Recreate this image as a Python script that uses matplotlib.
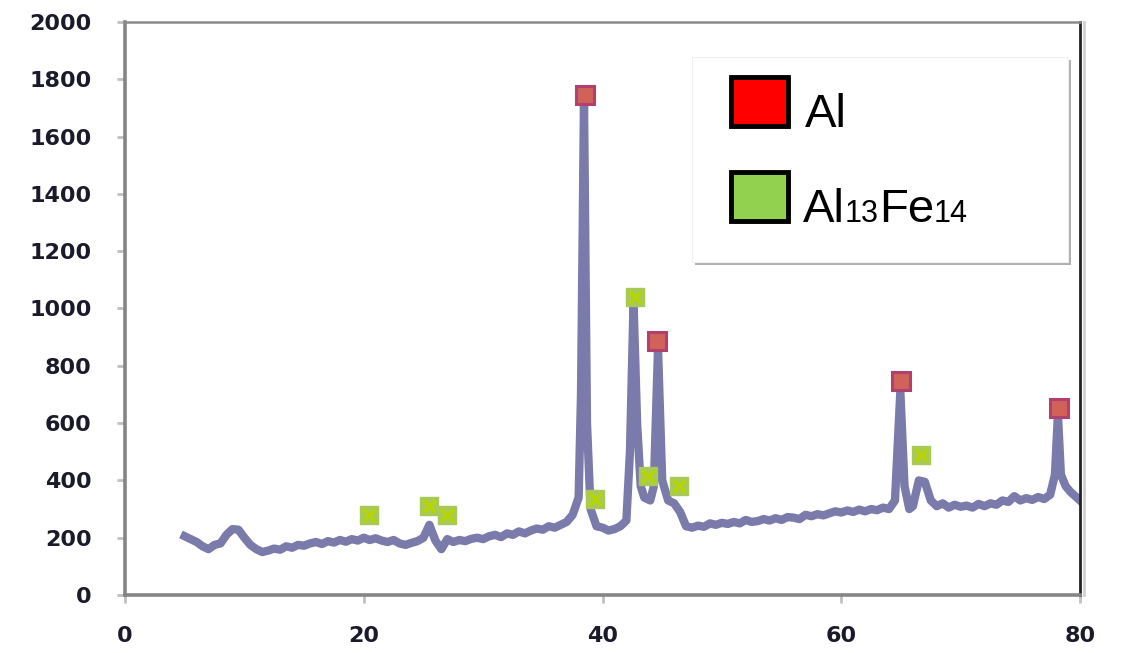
import matplotlib
matplotlib.use("Agg")
import matplotlib.pyplot as plt
from matplotlib.patches import Rectangle
from matplotlib.transforms import Affine2D
import matplotlib.patheffects as pe

# --- data (2-theta vs intensity) ---
two_theta = [
    5.0, 5.5, 6.0, 6.5, 7.0, 7.5, 8.0, 8.5, 9.0, 9.5,
    10.0, 10.5, 11.0, 11.5, 12.0, 12.5, 13.0, 13.5, 14.0, 14.5,
    15.0, 15.5, 16.0, 16.5, 17.0, 17.5, 18.0, 18.5, 19.0, 19.5,
    20.0, 20.5, 21.0, 21.5, 22.0, 22.5, 23.0, 23.5, 24.0, 24.5,
    25.0, 25.5, 26.0, 26.5, 27.0, 27.5, 28.0, 28.5, 29.0, 29.5,
    30.0, 30.5, 31.0, 31.5, 32.0, 32.5, 33.0, 33.5, 34.0, 34.5,
    35.0, 35.5, 36.0, 36.5, 37.0, 37.5, 38.0, 38.2, 38.45, 38.7,
    39.0, 39.5, 40.0, 40.5, 41.0, 41.5, 42.0, 42.3, 42.6, 42.9,
    43.2, 43.5, 44.0, 44.3, 44.65, 45.0, 45.5, 46.0, 46.5, 47.0,
    47.5, 48.0, 48.5, 49.0, 49.5, 50.0, 50.5, 51.0, 51.5, 52.0,
    52.5, 53.0, 53.5, 54.0, 54.5, 55.0, 55.5, 56.0, 56.5, 57.0,
    57.5, 58.0, 58.5, 59.0, 59.5, 60.0, 60.5, 61.0, 61.5, 62.0,
    62.5, 63.0, 63.5, 64.0, 64.5, 64.95, 65.3, 65.7, 66.0, 66.5,
    67.0, 67.5, 68.0, 68.5, 69.0, 69.5, 70.0, 70.5, 71.0, 71.5,
    72.0, 72.5, 73.0, 73.5, 74.0, 74.5, 75.0, 75.5, 76.0, 76.5,
    77.0, 77.5, 77.9, 78.15, 78.4, 78.8, 79.2, 79.6, 80.0,
]
intensity = [
    205, 195, 185, 170, 160, 175, 180, 210, 230, 228,
    200, 175, 160, 150, 155, 162, 158, 170, 165, 175,
    172, 180, 185, 178, 188, 183, 192, 186, 195, 190,
    200, 192, 198, 190, 185, 192, 180, 175, 182, 188,
    200, 245, 190, 160, 195, 185, 192, 188, 196, 200,
    195, 205, 210, 202, 215, 210, 222, 215, 225, 232,
    228, 240, 235, 245, 255, 280, 340, 700, 1730, 600,
    300, 240, 235, 225, 230, 240, 260, 500, 1020, 600,
    380, 340, 330, 380, 860, 400, 330, 320, 290, 240,
    235, 242, 238, 250, 245, 252, 248, 255, 250, 262,
    255, 258, 265, 260, 268, 262, 272, 270, 265, 280,
    275, 282, 278, 285, 292, 288, 295, 290, 298, 292,
    300, 296, 305, 300, 330, 710, 380, 300, 310, 400,
    395, 330, 310, 320, 305, 315, 308, 312, 305, 318,
    310, 320, 315, 330, 325, 345, 330, 338, 332, 342,
    335, 350, 420, 630, 420, 380, 360, 345, 330,
]

# phase markers
al_x = [38.5, 44.6, 65.0, 78.2]
al_y = [1745, 886, 747, 652]
alfe_x = [20.4, 25.5, 27.0, 39.4, 42.7, 43.8, 46.4, 66.7]
alfe_y = [279, 310, 279, 335, 1040, 415, 380, 489]

x_ticks = [0, 20, 40, 60, 80]
y_ticks = list(range(0, 2001, 200))

fig = plt.figure(figsize=(11.24, 6.53), dpi=100)
ax = fig.add_axes([125 / 1124, 1 - 595 / 653, 955 / 1124, 573 / 653])

ax.plot(two_theta, intensity, color="#7a7aab", lw=6, solid_joinstyle="round", zorder=2)

ax.plot(al_x, al_y, ls="none", marker="s", ms=13, mfc="#d0625a", mec="#b0406e", mew=2.2, zorder=4)
ax.plot(alfe_x, alfe_y, ls="none", marker="s", ms=13, mfc="#a8c957", mec="#a8c957", mew=1, zorder=4)
ax.plot(alfe_x, alfe_y, ls="none", marker="x", ms=9, mec="#b6d600", mew=2.5, zorder=5)

ax.set_xlim(0, 80)
ax.set_ylim(0, 2000)
ax.set_xticks(x_ticks)
ax.set_yticks(y_ticks)
ax.tick_params(axis="both", direction="out", length=6, width=2, color="#c0c0c0",
               labelsize=16, labelcolor="#1a1a2a")
ax.tick_params(axis="y", pad=18)
ax.tick_params(axis="x", pad=16)
for lab in ax.get_xticklabels() + ax.get_yticklabels():
    lab.set_fontweight("bold")

for side in ["left", "bottom"]:
    ax.spines[side].set_color("#858585")
    ax.spines[side].set_linewidth(2.6)
ax.spines["top"].set_color("#8a8a8a")
ax.spines["top"].set_linewidth(1.8)
ax.spines["right"].set_color("#222222")
ax.spines["right"].set_linewidth(2.0)
ax.spines["right"].set_path_effects([pe.SimpleLineShadow(offset=(3, 0), shadow_color="#d0d0d0", alpha=1), pe.Normal()])

# --- legend drawn by hand in pixel coordinates ---
pix = Affine2D().scale(1 / 1124, -1 / 653).translate(0, 1) + fig.transFigure
fig.patches.append(Rectangle((695, 60), 376, 205, transform=pix, fc="#b0b0b0", ec="none", zorder=5))
fig.patches.append(Rectangle((692, 57), 376, 205, transform=pix, fc="white", ec="#f0f0f0", lw=0.8, zorder=6))
for (y0, col) in [(77, "#ff0000"), (172, "#92d050")]:
    fig.patches.append(Rectangle((733, y0 + 3), 57, 49, transform=pix, fc="#666666", ec="none", zorder=7, alpha=0.5))
    fig.patches.append(Rectangle((731, y0), 57, 49, transform=pix, fc=col, ec="black", lw=3.5, zorder=8))

fig.text(805, 127, "Al", transform=pix, fontsize=34, family="Liberation Sans", va="baseline", zorder=9)

# Al13Fe14 with small baseline-level subscripts
renderer = fig.canvas.get_renderer()
xpos = 803
for part, size in [("Al", 34), ("13", 22), ("Fe", 34), ("14", 22)]:
    t = fig.text(xpos, 222, part, transform=pix, fontsize=size, family="Liberation Sans",
                 va="baseline", zorder=9)
    xpos += t.get_window_extent(renderer).width

fig.savefig("out.png", dpi=100)
